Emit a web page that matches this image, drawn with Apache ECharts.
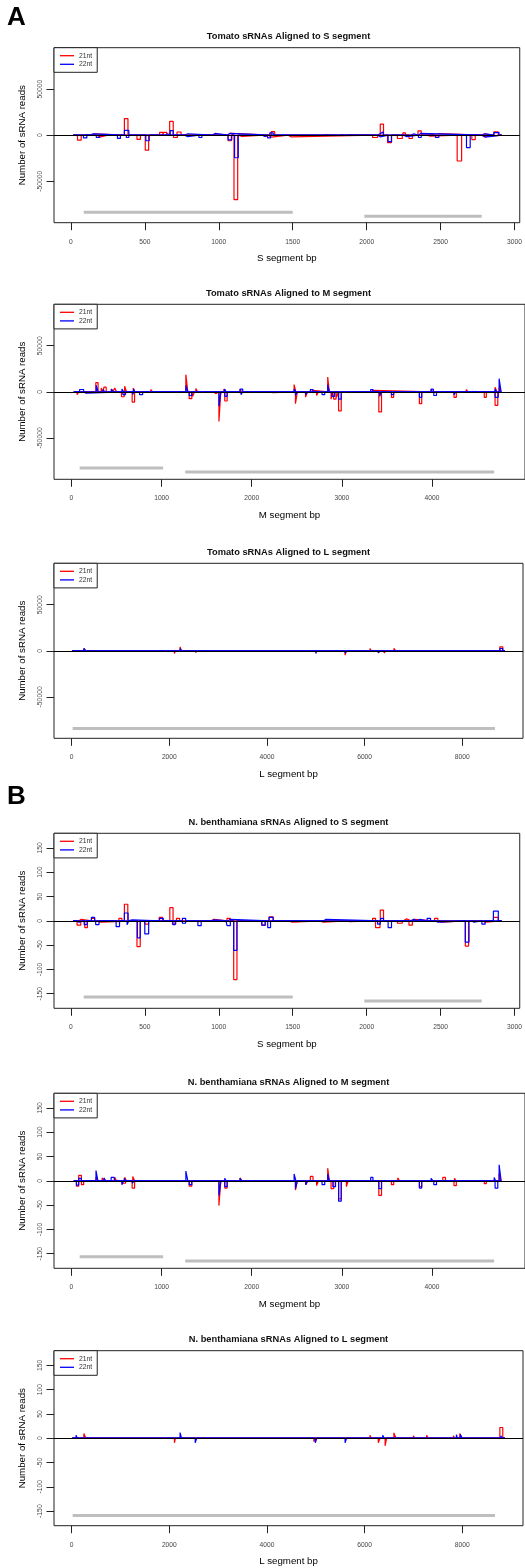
<!DOCTYPE html>
<html><head><meta charset="utf-8">
<script src="https://cdn.jsdelivr.net/npm/echarts@6/dist/echarts.min.js"></script>
<style>html,body{margin:0;padding:0;background:#fff}#c{width:525px;height:1568px}</style>
</head><body><div id="c"></div>
<script>
// ---------- DATA (peaks: [start bp, end bp, reads]) ----------
// Tomato, S segment
const tS21p = [[140,160,1500],[362,386,18000],[600,622,3000],[626,648,3000],[668,692,15000],[718,745,3500],[955,972,1500],[990,1010,1000],[1060,1075,2000],[1355,1378,3800],[1700,1720,600],[1810,1830,600],[1860,1880,600],[2092,2114,12000],[2245,2262,2500],[2347,2369,4700],[2409,2425,1500],[2465,2488,1800],[2779,2795,1500],[2860,2890,3600]];
const tS21m = [[45,70,-5400],[175,195,-2000],[250,262,-1000],[447,470,-4600],[503,526,-16300],[694,720,-2500],[780,790,-1000],[1063,1085,-6000],[1103,1128,-70000],[1140,1158,-1200],[1300,1315,-1500],[1335,1355,-2000],[1470,1490,-1800],[2040,2074,-2500],[2141,2168,-8000],[2208,2241,-3600],[2286,2309,-3600],[2409,2430,-1000],[2612,2642,-28000],[2711,2734,-4700],[2780,2800,-1500]];
const tS22p = [[90,110,800],[130,150,1500],[362,392,5200],[640,655,1500],[672,692,5000],[770,790,1500],[960,975,2000],[1060,1075,2000],[1345,1368,2500],[2070,2090,1500],[2095,2112,3600],[2300,2320,1500],[2350,2365,2000],[2779,2800,1500],[2860,2895,2900]];
const tS22m = [[85,108,-3000],[172,195,-2500],[315,335,-3500],[375,392,-2500],[507,530,-6000],[692,705,-2000],[770,790,-1500],[866,886,-2500],[1063,1088,-5000],[1107,1132,-24500],[1295,1312,-1500],[1330,1350,-3000],[2075,2092,-1800],[2145,2168,-7000],[2250,2270,-1500],[2350,2369,-2500],[2465,2488,-2500],[2675,2700,-13400],[2779,2800,-2000]];
// Tomato, M segment
const tM21p = [[270,295,10000],[330,350,4000],[360,385,5000],[440,460,3000],[480,500,4000],[590,610,6000],[685,700,4000],[830,850,1500],[880,900,2500],[1269,1291,18600],[1380,1400,3500],[1690,1710,3000],[1870,1890,2500],[1950,1970,2000],[2470,2490,7800],[2650,2680,1500],[2843,2861,16100],[3320,3345,1500],[3990,4010,2500],[4110,4130,2000],[4380,4400,2500],[4700,4720,5000],[4745,4767,5000]];
const tM21m = [[62,83,-3000],[555,585,-5400],[673,700,-11200],[790,810,-1500],[1306,1335,-7500],[1345,1365,-5000],[1575,1600,-2000],[1636,1657,-32200],[1701,1727,-10000],[1880,1900,-1500],[2100,2120,-2000],[2200,2230,-800],[2485,2506,-12900],[2597,2619,-5800],[2720,2740,-4000],[2880,2900,-8000],[2910,2935,-8000],[2940,2962,-6000],[2964,2993,-20800],[3050,3070,-2000],[3410,3440,-21900],[3550,3575,-6000],[3860,3886,-12900],[4244,4270,-6000],[4580,4603,-6000],[4700,4730,-14700]];
const tM22p = [[90,135,2500],[275,295,7000],[350,370,2500],[445,465,3000],[560,580,3000],[690,700,3000],[1269,1291,6800],[1330,1345,1500],[1700,1715,3000],[1870,1900,3000],[2470,2490,3000],[2650,2680,2500],[2843,2861,7800],[3320,3345,2500],[3990,4015,3000],[4120,4140,1500],[4700,4715,3000],[4745,4767,14300]];
const tM22m = [[135,160,-1500],[570,600,-3000],[680,695,-3000],[755,790,-3000],[1160,1175,-2000],[1306,1335,-4000],[1636,1657,-15500],[1701,1727,-5000],[1880,1900,-3000],[2485,2506,-4000],[2597,2619,-3000],[2780,2810,-3000],[2890,2920,-5000],[2964,2993,-8000],[3420,3440,-5000],[3550,3575,-3000],[3860,3886,-6000],[4020,4050,-4000],[4244,4265,-3000],[4700,4735,-6000]];
// Tomato, L segment
const tL21p = [[250,290,2500],[950,970,1000],[1230,1260,500],[2220,2250,4300],[3400,3420,600],[4660,4680,800],[6110,6140,2500],[6600,6640,2500],[7280,7300,1000],[7820,7840,1500],[7950,7980,1000],[8770,8830,4300]];
const tL21m = [[15,30,-1000],[2105,2125,-2900],[2540,2560,-2200],[3800,3820,-1000],[4250,4270,-1200],[4990,5020,-2000],[5600,5630,-4700],[6280,6315,-2200],[6400,6430,-2500]];
const tL22p = [[90,110,1500],[250,290,2500],[2220,2250,2500],[2860,2880,800],[6370,6390,1500],[7860,7880,1500],[7920,7960,1500],[8770,8830,2500]];
const tL22m = [[2540,2560,-2000],[5000,5020,-2900],[5600,5630,-2500],[6280,6310,-2200],[7880,7900,-800]];
// N. benthamiana, S segment
const nS21p = [[55,70,3],[139,161,5],[325,345,5],[362,385,34],[597,620,7],[669,691,27],[714,735,5],[948,966,3],[1056,1078,5],[1340,1368,8],[2040,2060,5],[2092,2114,22],[2250,2270,4],[2300,2320,3],[2459,2481,5],[2857,2890,7]];
const nS21m = [[42,67,-9],[94,112,-14],[180,195,-3],[447,469,-53],[500,526,-7],[687,709,-7],[1101,1123,-121],[1291,1314,-9],[1475,1495,-3],[1690,1705,-3],[1870,1885,-2],[2060,2090,-14],[2208,2241,-5],[2286,2309,-9],[2490,2505,-3],[2667,2689,-52],[2779,2801,-3]];
const nS22p = [[139,161,7],[362,387,16],[400,415,2],[600,625,5],[754,776,5],[955,970,2],[1063,1078,3],[1340,1368,7],[1710,1725,3],[2095,2114,5],[2300,2320,3],[2340,2360,3],[2409,2432,5],[2857,2890,20]];
const nS22m = [[30,55,-3],[90,110,-8],[168,190,-8],[306,329,-12],[380,392,-8],[450,469,-35],[500,526,-27],[690,705,-8],[754,776,-5],[859,881,-10],[1030,1050,-2],[1056,1078,-10],[1101,1123,-61],[1291,1314,-9],[1331,1350,-14],[2074,2092,-7],[2145,2168,-14],[2465,2481,-3],[2667,2692,-44],[2711,2725,-3],[2779,2801,-7]];
// N. benthamiana, M segment
const nM21p = [[80,110,11],[272,293,8],[340,360,6],[480,500,7],[590,610,7],[680,700,9],[1700,1715,4],[1870,1890,6],[2060,2080,2],[2650,2680,9],[2843,2861,26],[3560,3580,4],[3620,3640,6],[3720,3740,4],[4120,4150,7],[4250,4265,5],[4400,4420,4],[4745,4767,15]];
const nM21m = [[55,80,-11],[110,135,-8],[560,600,-5],[673,700,-15],[1306,1335,-11],[1380,1400,-4],[1636,1657,-51],[1701,1727,-15],[2485,2506,-19],[2600,2620,-8],[2720,2740,-10],[2880,2910,-16],[2964,2993,-37],[3050,3070,-12],[3410,3440,-30],[3550,3575,-8],[3860,3886,-12],[4244,4270,-10],[4580,4603,-6]];
const nM22p = [[80,110,5],[272,293,21],[360,380,6],[440,475,7],[585,600,5],[1269,1291,20],[1700,1715,5],[1870,1890,5],[2470,2490,14],[2843,2861,14],[3320,3345,7],[3990,4010,5],[4120,4140,4],[4690,4705,7],[4745,4767,33]];
const nM22m = [[55,80,-9],[560,580,-8],[675,695,-5],[1306,1335,-8],[1636,1657,-30],[1701,1727,-12],[2485,2506,-16],[2600,2620,-8],[2780,2810,-8],[2900,2930,-12],[2964,2993,-42],[3410,3440,-16],[3860,3886,-15],[4020,4050,-8],[4170,4185,-4],[4700,4730,-15]];
// N. benthamiana, L segment
const nL21p = [[250,290,9.5],[2230,2250,3],[2370,2390,3],[4660,4680,3],[5700,5720,4],[6110,6130,6],[6600,6640,11],[7000,7020,5],[7270,7300,6],[7420,7440,3],[7650,7670,3],[7820,7840,5],[7950,7990,9.5],[8770,8830,22]];
const nL21m = [[15,30,-3],[2105,2125,-9.5],[3040,3060,-2],[4250,4270,-3],[4960,5000,-7],[6280,6315,-9.5],[6420,6450,-15.6]];
const nL22p = [[90,115,6],[250,290,4],[2220,2250,11.6],[2860,2880,3],[5900,5920,3],[6370,6400,6],[7880,7900,7.5],[7960,8000,7.5],[8790,8820,5]];
const nL22m = [[2530,2560,-9.5],[4990,5020,-9.5],[5600,5630,-9.5],[7150,7170,-3]];

// segment extents covered by the read tracks
const rangeS = [15, 2913];
const rangeM = [25, 4768];
const rangeL = [10, 8874];

// ORF annotation bars [start, end, y]
const orfTS = [[87,1500,-83700],[1984,2778,-88000]];
const orfTM = [[91,1017,-82800],[1262,4690,-87100]];
const orfTL = [[20,8669,-84400]];
const orfNS = [[87,1500,-157],[1984,2778,-165]];
const orfNM = [[91,1017,-156],[1262,4690,-165]];
const orfNL = [[20,8669,-159]];

// tick labels
const xTicksS = [0,500,1000,1500,2000,2500,3000];
const xTicksM = [0,1000,2000,3000,4000];
const xTicksL = [0,2000,4000,6000,8000];
const yTicksT = [-50000,0,50000];
const yTicksN = [-150,-100,-50,0,50,100,150];

const titles = ['Tomato sRNAs Aligned to S segment','Tomato sRNAs Aligned to M segment','Tomato sRNAs Aligned to L segment',
  'N. benthamiana sRNAs Aligned to S segment','N. benthamiana sRNAs Aligned to M segment','N. benthamiana sRNAs Aligned to L segment'];
const xNames = ['S segment bp','M segment bp','L segment bp','S segment bp','M segment bp','L segment bp'];
const sizeNames = ['21nt','22nt'];

// ---------- LAYOUT ----------
const FONT = '"Liberation Sans", Arial, Helvetica, sans-serif';
const gridTops = [47.7, 304.3, 563.3, 833.3, 1093.3, 1350.7];
const GH = 175, GL = 54;
const panels = [
  {tr:[tS21p,tS21m,tS22p,tS22m], range:rangeS, orf:orfTS, xt:xTicksS, yt:yTicksT, xmin:-114, xmax:3035, w:469, ymax:95000},
  {tr:[tM21p,tM21m,tM22p,tM22m], range:rangeM, orf:orfTM, xt:xTicksM, yt:yTicksT, xmin:-194, xmax:5032, w:476, ymax:95000},
  {tr:[tL21p,tL21m,tL22p,tL22m], range:rangeL, orf:orfTL, xt:xTicksL, yt:yTicksT, xmin:-362, xmax:9244, w:469, ymax:95000},
  {tr:[nS21p,nS21m,nS22p,nS22m], range:rangeS, orf:orfNS, xt:xTicksS, yt:yTicksN, xmin:-114, xmax:3035, w:469, ymax:180},
  {tr:[nM21p,nM21m,nM22p,nM22m], range:rangeM, orf:orfNM, xt:xTicksM, yt:yTicksN, xmin:-194, xmax:5032, w:476, ymax:180},
  {tr:[nL21p,nL21m,nL22p,nL22m], range:rangeL, orf:orfNL, xt:xTicksL, yt:yTicksN, xmin:-362, xmax:9244, w:469, ymax:180}
];

// coverage profile: zero baseline with a box for each peak
function profile(peaks, range){
  const d = [[range[0], 0]];
  peaks.slice().sort((a,b)=>a[0]-b[0]).forEach(p=>{
    d.push([p[0], 0], [p[0], p[2]], [p[1], p[2]], [p[1], 0]);
  });
  d.push([range[1], 0]);
  return d;
}

const grid=[], xAxis=[], yAxis=[], series=[], legend=[];
const title = [
  {text:'A', left:7, top:5, padding:0, textStyle:{fontSize:26, fontWeight:'bold', color:'#000', fontFamily:FONT}},
  {text:'B', left:7, top:784, padding:0, textStyle:{fontSize:26, fontWeight:'bold', color:'#000', fontFamily:FONT}}
];
const colors = ['#ff0000','#ff0000','#0000ff','#0000ff'];

panels.forEach((p,i)=>{
  const top = gridTops[i];
  grid.push({left:GL, top:top, width:p.w, height:GH, show:true, borderColor:'#222', borderWidth:1, backgroundColor:'transparent'});
  title.push({text:titles[i], left:288.5, textAlign:'center', top:top-15.5, padding:0,
    textStyle:{fontSize:9.3, fontWeight:'bold', color:'#111', fontFamily:FONT}});
  xAxis.push({gridIndex:i, type:'value', min:p.xmin, max:p.xmax,
    axisLine:{show:false, onZero:false}, splitLine:{show:false},
    axisTick:{show:true, length:7.5, customValues:p.xt, lineStyle:{color:'#222', width:1}},
    axisLabel:{show:true, customValues:p.xt, fontSize:6.7, color:'#444', margin:15.5, fontFamily:FONT, formatter:v=>String(v)},
    name:xNames[i], nameLocation:'middle', nameGap:31,
    nameTextStyle:{fontSize:9.7, color:'#000', fontFamily:FONT}});
  yAxis.push({gridIndex:i, type:'value', min:-p.ymax, max:p.ymax,
    axisLine:{show:false, onZero:false}, splitLine:{show:false},
    axisTick:{show:true, length:7.5, customValues:p.yt, lineStyle:{color:'#222', width:1}},
    axisLabel:{show:true, customValues:p.yt, rotate:90, fontSize:6.8, color:'#444', margin:10, fontFamily:FONT, formatter:v=>String(v)},
    name:'Number of sRNA reads', nameLocation:'middle', nameGap:27, nameRotate:90,
    nameTextStyle:{fontSize:9.7, color:'#000', fontFamily:FONT}});
  // ORF bars (+ zero line on the first)
  p.orf.forEach((o,k)=>{
    const s = {type:'line', name:'orf'+i+'_'+k, xAxisIndex:i, yAxisIndex:i, z:1,
      data:[[o[0],o[2]],[o[1],o[2]]], showSymbol:false, symbol:'none',
      lineStyle:{color:'#bebebe', width:3}, itemStyle:{color:'#bebebe'}, silent:true};
    if(k===0){
      s.markLine = {silent:true, symbol:['none','none'], label:{show:false}, animation:false,
        lineStyle:{color:'#000', width:1, type:'solid'}, data:[{yAxis:0}]};
    }
    series.push(s);
  });
  p.tr.forEach((t,k)=>{
    series.push({type:'line', name:sizeNames[k<2?0:1], xAxisIndex:i, yAxisIndex:i, z:3,
      data:profile(t, p.range), showSymbol:false, symbol:'none',
      lineStyle:{color:colors[k], width:1.2}, itemStyle:{color:colors[k]}, silent:true});
  });
  legend.push({data:sizeNames, left:GL, top:top, orient:'vertical', selectedMode:false,
    icon:'rect', itemWidth:14, itemHeight:1.3, itemGap:0.6,
    padding:[4,5,4,6], borderColor:'#222', borderWidth:1, backgroundColor:'#fff',
    textStyle:{fontSize:6.8, color:'#333', lineHeight:8, fontFamily:FONT}});
});

const chart = echarts.init(document.getElementById('c'), null, {renderer:'canvas'});
chart.setOption({animation:false, backgroundColor:'#fff', title, grid, xAxis, yAxis, legend, series});
</script>
</body></html>
